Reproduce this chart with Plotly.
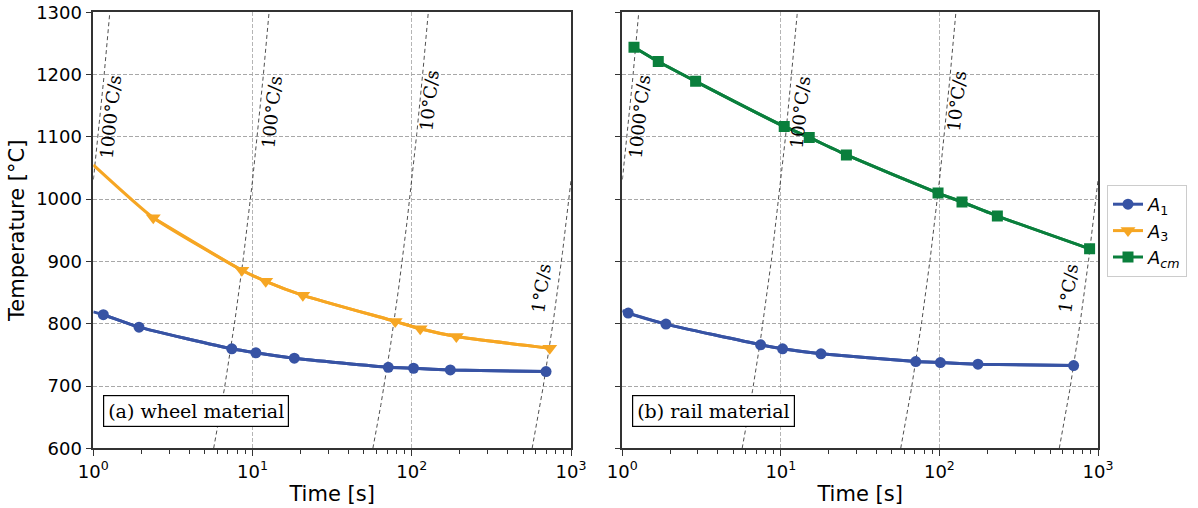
import numpy as np
import plotly.graph_objects as go

# ---------------- data ----------------
# (a) wheel material
wheel_A1_t = [1.156, 1.937, 7.41, 10.5, 18.3, 71.2, 102.6, 174.6, 697]
wheel_A1_T = [814.5, 794.5, 759.7, 753.3, 744.6, 730.1, 728.5, 725.9, 723.2]
wheel_A1_line_start = (1.0, 819)
wheel_A3_t = [2.38, 8.57, 12.1, 20.7, 78.7, 113, 190.5, 735]
wheel_A3_T = [970.1, 885.9, 868.1, 845.6, 803.7, 791.9, 779.5, 760.7]
wheel_A3_line_start = (1.0, 1055)

# (b) rail material
rail_A1_t = [1.09, 1.885, 7.45, 10.25, 17.9, 70.9, 101.4, 175, 702]
rail_A1_T = [817.1, 799.4, 766.2, 759.7, 751.7, 739.3, 737.7, 735.0, 732.8]
rail_A1_line_start = (1.0, 821)
rail_Acm_t = [1.185, 1.686, 2.90, 10.5, 15.1, 25.9, 98, 138.8, 231.9, 885]
rail_Acm_T = [1244, 1221, 1189.2, 1116.7, 1099, 1071, 1009.7, 995.4, 972.9, 920.3]

# heating-rate guide lines (T = T0 + rate * t)
rates = [1000, 100, 10, 1]
rate_labels = ["1000°C/s", "100°C/s", "10°C/s", "1°C/s"]
T_start = 30
label_logt = [0.11, 1.12, 2.11, 2.81]
label_T = [1132, 1139, 1158, 857]
label_angle = [-84, -84, -84, -82]

x_tickvals = [1, 10, 100, 1000]
x_ticktext = ["10<sup>0</sup>", "10<sup>1</sup>", "10<sup>2</sup>", "10<sup>3</sup>"]
y_tickvals = [600, 700, 800, 900, 1000, 1100, 1200, 1300]

BLUE = "#3753a4"
ORANGE = "#f6a623"
GREEN = "#0a7f3c"

fig = go.Figure()

# guide lines
T_grid = np.linspace(600, 1300, 400)
for xa, ya in [("x", "y"), ("x2", "y2")]:
    for r in rates:
        t = (T_grid - T_start) / r
        m = (t >= 1) & (t <= 1000)
        fig.add_trace(go.Scatter(x=t[m], y=T_grid[m], mode="lines",
                                 line=dict(color="#222", width=0.8, dash="4px,3px"),
                                 showlegend=False, hoverinfo="skip", xaxis=xa, yaxis=ya))


def add_series(t, T, start, color, symbol, size, name, rank, showlegend, xa, ya):
    lt = ([start[0]] if start else []) + list(t)
    lT = ([start[1]] if start else []) + list(T)
    fig.add_trace(go.Scatter(x=lt, y=lT, mode="lines",
                             line=dict(color=color, width=3, shape="spline", smoothing=0.5),
                             showlegend=False, hoverinfo="skip", xaxis=xa, yaxis=ya))
    fig.add_trace(go.Scatter(x=t, y=T, mode="markers+lines", name=name,
                             line=dict(color=color, width=3, shape="spline", smoothing=0.5),
                             marker=dict(color=color, symbol=symbol, size=size),
                             showlegend=showlegend, legendrank=rank, xaxis=xa, yaxis=ya))


add_series(wheel_A1_t, wheel_A1_T, wheel_A1_line_start, BLUE, "circle", 11,
           "<i>A</i><sub>1</sub>", 1, True, "x", "y")
add_series(wheel_A3_t, wheel_A3_T, wheel_A3_line_start, ORANGE, "triangle-down", 13,
           "<i>A</i><sub>3</sub>", 2, True, "x", "y")
add_series(rail_A1_t, rail_A1_T, rail_A1_line_start, BLUE, "circle", 11,
           "<i>A</i><sub>1</sub>", 1, False, "x2", "y2")
add_series(rail_Acm_t, rail_Acm_T, None, GREEN, "square", 11,
           "<i>A</i><sub><i>cm</i></sub>", 3, True, "x2", "y2")

# rate labels
annotations = []
for xa, ya in [("x", "y"), ("x2", "y2")]:
    for lab, lx, ly, ang in zip(rate_labels, label_logt, label_T, label_angle):
        annotations.append(dict(x=lx, y=ly, xref=xa, yref=ya, text=lab, showarrow=False,
                                textangle=ang, font=dict(family="DejaVu Serif", size=18, color="black")))

for xa, txt in [("x", "(a) wheel material"), ("x2", "(b) rail material")]:
    annotations.append(dict(x=0.02, y=0.086, xref=xa + " domain", yref="y domain", text=txt,
                            showarrow=False, xanchor="left", yanchor="middle",
                            font=dict(family="DejaVu Serif", size=19, color="black"),
                            bordercolor="black", borderwidth=1.2, borderpad=4, bgcolor="white"))

minor_vals = [m * 10 ** k for k in range(3) for m in range(2, 10)]

xcommon = dict(type="log", range=[0, 3], tickvals=x_tickvals, ticktext=x_ticktext,
               ticks="outside", ticklen=6, tickwidth=1.2, tickcolor="#333",
               showline=True, linecolor="#333", linewidth=1.5, mirror=True,
               showgrid=True, gridcolor="#b5b5b5", griddash="4px,2px", gridwidth=0.8,
               zeroline=False, automargin=False,
               tickfont=dict(family="DejaVu Sans", size=18, color="black"),
               minor=dict(tickvals=minor_vals, ticks="outside", ticklen=3.5, tickcolor="#333",
                          showgrid=False),
               title=dict(text="Time [s]", font=dict(family="DejaVu Sans", size=21, color="black"),
                          standoff=6))
ycommon = dict(range=[600, 1300], tickvals=y_tickvals, ticks="outside", ticklen=6, tickwidth=1.2,
               tickcolor="#333", showline=True, linecolor="#333", linewidth=1.5, mirror=True,
               showgrid=True, gridcolor="#a8a8a8", griddash="4px,2px", gridwidth=0.8, zeroline=False,
               automargin=False,
               tickfont=dict(family="DejaVu Sans", size=18, color="black"))

W, H = 1198, 508
fig.update_layout(
    width=W, height=H, margin=dict(l=0, r=0, t=0, b=0, autoexpand=False),
    paper_bgcolor="white", plot_bgcolor="white",
    xaxis=dict(xcommon, domain=[93.3 / W, 571 / W], anchor="y"),
    xaxis2=dict(xcommon, domain=[622.3 / W, 1098 / W], anchor="y2"),
    yaxis=dict(ycommon, domain=[(H - 448.3) / H, (H - 12.3) / H], anchor="x",
               title=dict(text="Temperature [°C]", font=dict(family="DejaVu Sans", size=21, color="black"),
                          standoff=6)),
    yaxis2=dict(ycommon, domain=[(H - 448.3) / H, (H - 12.3) / H], anchor="x2", showticklabels=False,
                matches="y"),
    legend=dict(x=1107 / W, y=(H - 185) / H, xanchor="left", yanchor="top",
                bordercolor="#cccccc", borderwidth=1, bgcolor="white",
                font=dict(family="DejaVu Sans", size=18, color="black"),
                tracegroupgap=0, itemwidth=30),
    annotations=annotations,
    showlegend=True,
)

fig.write_html("out.html", config={"displayModeBar": False},
               post_script="document.body.style.margin='0';document.body.style.overflow='hidden';")
